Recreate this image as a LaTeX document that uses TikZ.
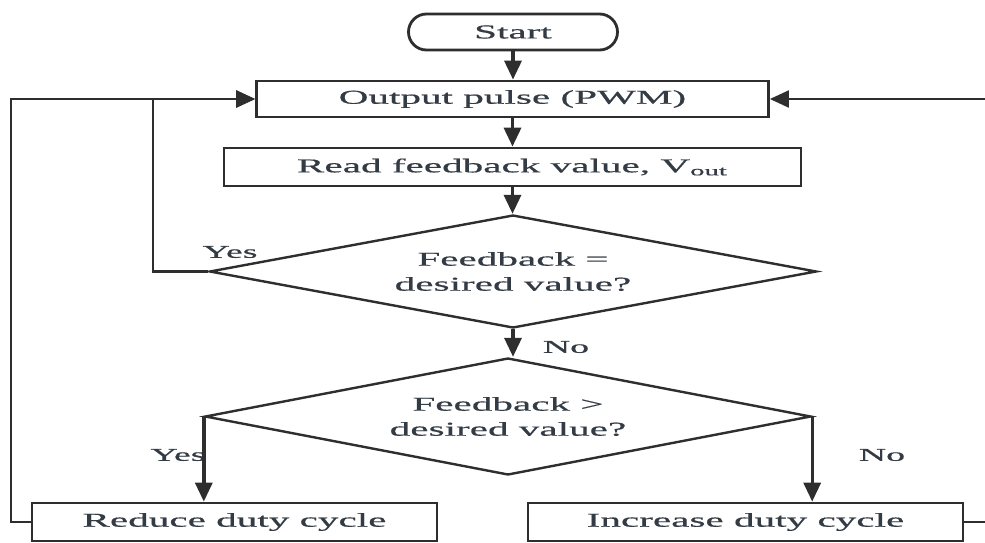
\documentclass[tikz,border=0pt]{standalone}
\usepackage{fontspec}
\setmainfont{Liberation Serif}[FakeStretch=2.1,FakeBold=0.6]
\usetikzlibrary{shapes.geometric,arrows.meta}
\definecolor{ln}{HTML}{2E2E2E}
\definecolor{tx}{HTML}{333B44}
\begin{document}
\begin{tikzpicture}[x=0.5pt,y=-0.5pt,
  every node/.style={text=tx, font=\fontsize{9.8}{12.5}\selectfont},
  box/.style={draw=ln, line width=1.4pt, rectangle, inner sep=0pt, minimum height=19pt},
  term/.style={box, rounded corners=9pt},
  dec/.style={draw=ln, line width=1.2pt, diamond, aspect=5.4, inner sep=0pt, align=center},
  flow/.style={draw=ln, line width=1.7pt, -{Triangle[length=9.5pt,width=8.5pt]}},
  loopline/.style={draw=ln, line width=1.1pt, -{Triangle[length=9.5pt,width=8.5pt]}},
  lbl/.style={font=\fontsize{9}{11}\selectfont}
]
\useasboundingbox (0,0) rectangle (985,542);
\fill[white] (0,0) rectangle (985,542);
\clip (0,0) rectangle (985,542);

\node[term, minimum width=104.5pt, minimum height=18pt] (start) at (513,32) {Start};
\node[box, minimum width=256pt, minimum height=18pt] (out) at (512.5,99) {Output pulse (PWM)};
\node[box, minimum width=288.5pt, minimum height=19pt] (read) at (512.5,167) {Read feedback value, V\textsubscript{out}};
\node[dec, minimum width=303.5pt, minimum height=56.5pt] (d1) at (513,271.5) {Feedback =\\desired value?};
\node[dec, minimum width=303pt, minimum height=58.5pt] (d2) at (508,416.5) {Feedback >\\desired value?};
\node[box, minimum width=202.5pt, minimum height=19pt] (red) at (234.5,522) {Reduce duty cycle};
\node[box, minimum width=217.5pt, minimum height=19pt] (inc) at (745.5,522) {Increase duty cycle};

\node[lbl] (y1) at (230,252) {Yes};
\node[lbl] (n1) at (566,347) {No};
\node[lbl] (y2) at (178,455) {Yes};
\node[lbl] (n2) at (882,455) {No};

\draw[flow] (start.south) -- (start.south |- out.north);
\draw[flow] (out.south) -- (out.south |- read.north);
\draw[flow] (read.south) -- (read.south |- d1.north);
\draw[flow] (d1.south) -- (d1.south |- d2.north);
\draw[flow] (d2.west) -- (d2.west |- red.north);
\draw[flow] (d2.east) -- (d2.east |- inc.north);
\draw[loopline] (d1.west) -- ++(-55,0) |- (out.west);
\draw[loopline] (red.west) -- ++(-20,0) |- (out.west);
\coordinate (rr) at (1000,522);
\draw[loopline] (inc.east) -- (rr) |- (out.east);
\end{tikzpicture}
\end{document}
